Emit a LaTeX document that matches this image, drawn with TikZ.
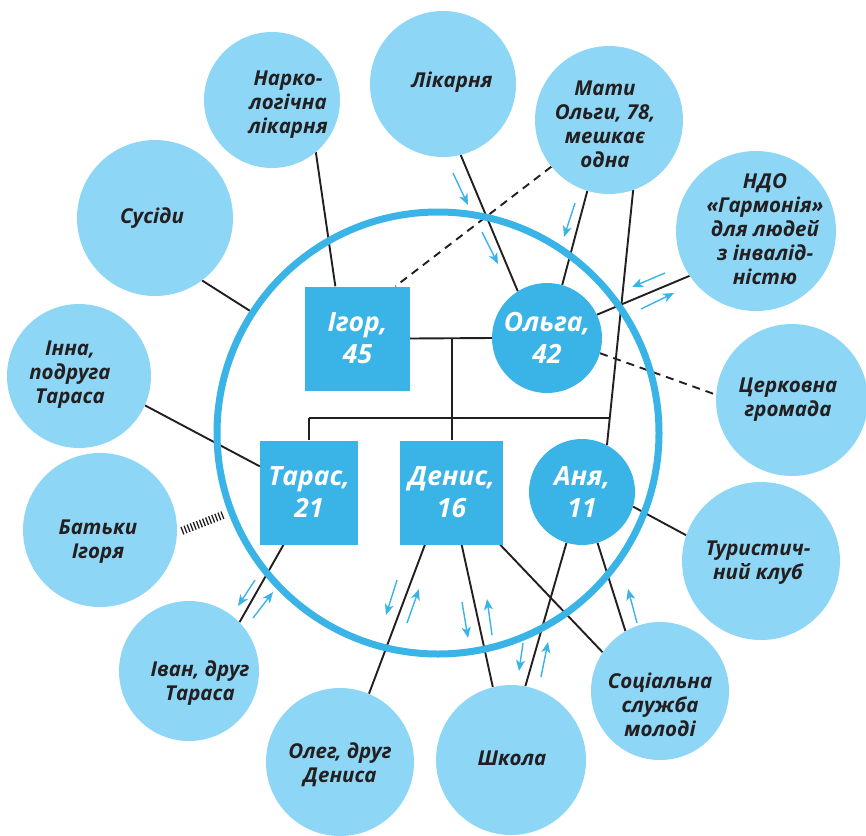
\documentclass[tikz,border=0pt]{standalone}
\usepackage{fontspec}
\setmainfont{Open Sans}
\usetikzlibrary{arrows.meta,backgrounds,calc}
\definecolor{dblue}{RGB}{58,180,230}
\definecolor{lblue}{RGB}{142,214,246}
\definecolor{ink}{RGB}{35,31,32}
\tikzset{
  outer/.style={circle,fill=lblue,inner sep=0pt,minimum size=#1},
  otext/.style={text=ink,align=center,inner sep=0pt,font=\fontsize{20.5}{24}\selectfont\bfseries\itshape},
  person/.style={fill=dblue,text=white,align=center,inner sep=0pt,font=\fontsize{26.5}{32}\selectfont\bfseries\itshape},
  male/.style={person,rectangle,minimum width=#1,minimum height=104pt},
  female/.style={person,circle,minimum size=#1},
  link/.style={draw=ink,line width=1.9pt},
  dlink/.style={link,dash pattern=on 8pt off 6pt},
  hatch/.style={draw=ink,line width=8pt,dash pattern=on 1.3pt off 2pt},
  flow/.style={draw=dblue,line width=1.4pt,-{Stealth[length=11pt,width=9pt,inset=3pt]}}
}
\begin{document}
\begin{tikzpicture}[x=1pt,y=-1pt]
\useasboundingbox (0,0) rectangle (866,835);
% big circle
\node[circle,draw=dblue,line width=7pt,minimum size=442pt,inner sep=0pt] (big) at (438,433) {};
% family members
\node[male=105pt] (igor) at (357.5,338.5) {Ігор,\\45};
\node[female=110pt] (olga) at (547,338) {Ольга,\\42};
\node[male=98pt] (taras) at (309,492.5) {Тарас,\\21};
\node[male=103pt] (denys) at (451.5,492.5) {Денис,\\16};
\node[female=106pt] (anya) at (582,492) {Аня,\\11};
% outer circles
\node[outer=136pt] (narko) at (272,100) {};
\node[outer=146pt] (likar) at (443,84) {};
\node[outer=148pt] (maty) at (609,120) {};
\node[outer=160pt] (ngo) at (756,231) {};
\node[outer=156pt] (susidy) at (155,218) {};
\node[outer=144pt] (inna) at (79,376) {};
\node[outer=152pt] (church) at (792,400) {};
\node[outer=154pt] (batky) at (100,530) {};
\node[outer=158pt] (tour) at (761,561) {};
\node[outer=140pt] (ivan) at (189,671) {};
\node[outer=148pt] (oleg) at (340,762) {};
\node[outer=150pt] (school) at (511,760) {};
\node[outer=138pt] (social) at (660,691) {};
% texts
\node[otext] (t1) at (288,105) {Нарко-\\логічна\\лікарня};
\node[otext] (t2) at (452,82) {Лікарня};
\node[otext] (t3) at (605,124) {Мати\\Ольги, 78,\\мешкає\\одна};
\node[otext] (t4) at (765,229) {НДО\\«Гармонія»\\для людей\\з інвалід-\\ністю};
\node[otext] (t5) at (152,218) {Сусіди};
\node[otext] (t6) at (70,375) {Інна,\\подруга\\Тараса};
\node[otext] (t7) at (788,400) {Церковна\\громада};
\node[otext] (t8) at (98,542) {Батьки\\Ігоря};
\node[otext] (t9) at (758,563) {Туристич-\\ний клуб};
\node[otext] (t10) at (200,683) {Іван, друг\\Тараса};
\node[otext] (t11) at (340,765) {Олег, друг\\Дениса};
\node[otext] (t12) at (512,758) {Школа};
\node[otext] (t13) at (660,705) {Соціальна\\служба\\молоді};
% connectors
\begin{scope}[on background layer]
\coordinate (m) at (452,338);
\coordinate (fl) at (309,418);
\coordinate (fr) at (609.5,418);
\draw[link] (igor.east) -- (olga.west);
\draw[link] (m) -- (m |- denys.north);
\draw[link] (fl) -- (fr);
\draw[link] (fl) -- (taras.north);
\draw[link] (narko.-50) -- (igor.113);
\draw[link] (likar.-76) -- (olga.122);
\draw[dlink] (maty.-141.5) -- (igor.54);
\draw[link] (maty.-107.7) -- (olga.74);
\draw[link] (maty.-71) -- (anya.62);
\draw[link] (ngo.-146) -- (olga.25);
\draw[dlink] (olga.-16.4) -- (church.176);
\draw[link] (susidy.-53.4) -- (big.147.6);
\draw[link] (inna.-24.7) -- (taras.152.5);
\draw[link] (taras.-116.3) -- (ivan.44);
\draw[link] (denys.-117.6) -- (oleg.67.4);
\draw[link] (denys.-79.7) -- (school.104.6);
\draw[link] (denys.-47.9) -- (social.146);
\draw[link] (anya.-107.7) -- (school.79);
\draw[link] (anya.-73.6) -- (social.120.7);
\draw[link] (anya.-16.8) -- (tour.161);
\end{scope}
\coordinate (hend) at (223,515);
\draw[hatch,shorten <=5pt] (batky.-2) -- (hend);
% flow arrows
\draw[flow] (453,173) -- (468,205);
\draw[flow] (482,232) -- (498,264);
\draw[flow] (575,203) -- (564,237);
\draw[flow] (665,273) -- (632,287);
\draw[flow] (641,309) -- (674,293);
\draw[flow] (255,580) -- (238,606);
\draw[flow] (253,618) -- (273,592);
\draw[flow] (397,580) -- (386,615);
\draw[flow] (407,623) -- (419,589);
\draw[flow] (462,602) -- (468,638);
\draw[flow] (492,635) -- (487,599);
\draw[flow] (523,643) -- (519,671);
\draw[flow] (541,677) -- (548,642);
\draw[flow] (637,623) -- (628,589);
\end{tikzpicture}
\end{document}
